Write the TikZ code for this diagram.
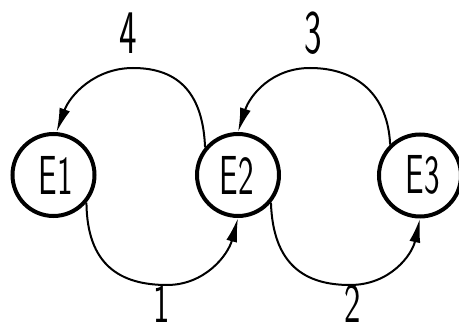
\documentclass[tikz,border=0pt]{standalone}
\usetikzlibrary{arrows.meta}
\begin{document}
\begin{tikzpicture}[x=1pt,y=-1pt,
  state/.style={circle,draw,line width=4pt,minimum size=82pt,inner sep=0pt},
  lbl/.style={font=\sffamily\fontsize{55}{55}\selectfont,xscale=0.6,inner sep=0pt},
  num/.style={font=\sffamily\fontsize{62}{62}\selectfont,xscale=0.6,inner sep=0pt},
  numlow/.style={font=\sffamily\fontsize{56}{56}\selectfont,xscale=0.62,inner sep=0pt},
  conn/.style={line width=2pt,-{Latex[length=24pt,width=11pt]}}]
\useasboundingbox (0,0) rectangle (459,331);
\node[state] (E1) at (53.5,175) {};
\node[state] (E2) at (238,175) {};
\node[state] (E3) at (420,175.5) {};
\node[lbl] (t1) at (56,175) {E1};
\node[lbl] (t2) at (237,175) {E2};
\node[lbl] (t3) at (423,175) {E3};
\draw[conn] (E2.140) .. controls (203,95) and (180,68) .. (133,68)
  .. controls (95,68) and (70,95) .. (E1.86);
\draw[conn] (E3.134) .. controls (388,95) and (357,68) .. (310,68)
  .. controls (272,68) and (250,95) .. (E2.90);
\draw[conn] (E1.-40) .. controls (87,265) and (120,285) .. (167,285)
  .. controls (205,285) and (228,255) .. (E2.-90);
\draw[conn] (E2.-40) .. controls (273,265) and (305,285) .. (350,285)
  .. controls (390,285) and (412,255) .. (E3.-90);
\node[num] (n4) at (128,33) {4};
\node[num] (n3) at (313,33) {3};
\node[numlow] (n1) at (162,304) {1};
\node[numlow] (n2) at (353,304) {2};
\end{tikzpicture}
\end{document}
